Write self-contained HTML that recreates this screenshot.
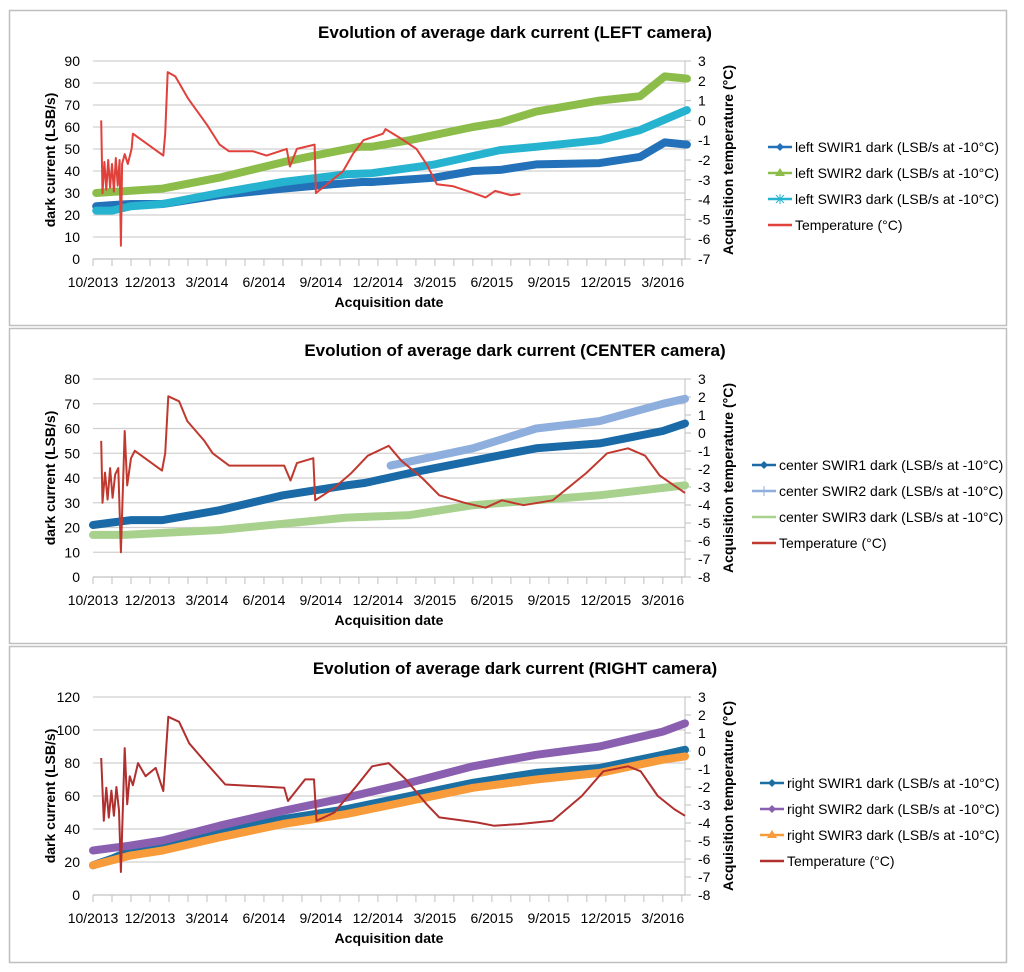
<!DOCTYPE html>
<html><head><meta charset="utf-8"><style>
body{margin:0;background:#fff;}
svg{display:block;font-family:"Liberation Sans",sans-serif;}
</style></head><body>
<svg id="chart" width="1024" height="972" viewBox="0 0 1024 972" xmlns="http://www.w3.org/2000/svg"></svg>
<script>
// shared x-axis: days since 2013-10-01
const xTickLabels = ["10/2013","12/2013","3/2014","6/2014","9/2014","12/2014","3/2015","6/2015","9/2015","12/2015","3/2016"];

// ---------- LEFT camera ----------
const leftYTicks = [0,10,20,30,40,50,60,70,80,90];
const leftTTicks = [-7,-6,-5,-4,-3,-2,-1,0,1,2,3];
const leftS1Days = [5,30,60,110,200,300,380,425,440,540,600,643,700,800,864,903,938];
const leftS1Vals = [24,24.5,25,25,29,32,34,35,35,37,40,40.5,43,43.6,46.4,53,52];
const leftS2Days = [5,30,60,110,200,300,350,420,440,500,600,643,700,800,864,903,938];
const leftS2Vals = [30,30.5,31,32,37,44,47,51,51,54,60,62,67,72,74,83,82];
const leftS3Days = [5,30,60,110,200,300,400,440,540,643,700,800,864,938];
const leftS3Vals = [22,22,24,25,30,35,38.5,39,43,49.5,51,54,58.6,67.7];
const leftTDays = [13,15,18,21,24,27,30,33,36,39,42,44,46,50,55,61,63,111,114,118,130,150,180,200,215,253,274,306,311,322,350,352,374,395,411,427,458,462,485,511,527,543,569,601,620,635,660,675];
const leftTVals = [0.0,-3.67,-2.1,-3.5,-2.0,-3.4,-2.2,-3.6,-1.9,-3.3,-2.0,-6.33,-2.2,-1.7,-2.2,-1.44,-0.67,-1.78,-0.67,2.44,2.22,1.11,-0.22,-1.22,-1.56,-1.56,-1.78,-1.44,-2.33,-1.44,-1.22,-3.67,-3.11,-2.56,-1.67,-1.0,-0.67,-0.44,-0.89,-1.44,-2.22,-3.22,-3.33,-3.67,-3.89,-3.56,-3.78,-3.7];

// ---------- CENTER camera ----------
const centerYTicks = [0,10,20,30,40,50,60,70,80];
const centerTTicks = [-8,-7,-6,-5,-4,-3,-2,-1,0,1,2,3];
const centerS1Days = [0,30,60,110,200,300,400,430,500,600,700,800,900,935];
const centerS1Vals = [21,22,23,23,27,33,37,38,42,47,52,54,59,62];
const centerS2Days = [470,600,700,800,900,935];
const centerS2Vals = [45,52,60,63,70,72];
const centerS3Days = [0,50,200,400,500,600,700,800,900,935];
const centerS3Vals = [17,17,19,24,25,29,31,33,36,37];
const centerTDays = [13,15,19,23,27,31,35,40,44,50,54,60,66,109,114,119,136,149,176,189,215,302,312,322,348,351,381,408,434,467,487,520,547,587,620,646,680,726,779,812,845,872,895,912,935];
const centerTVals = [-0.44,-3.875,-2.2,-3.7,-1.95,-3.6,-2.3,-1.95,-6.63,0.11,-2.91,-1.4,-0.99,-2.09,-1.125,2.04,1.76,0.66,-0.44,-1.125,-1.81,-1.81,-2.64,-1.675,-1.4,-3.74,-3.05,-2.225,-1.26,-0.71,-1.54,-2.5,-3.46,-3.875,-4.15,-3.74,-4.01,-3.74,-2.225,-1.125,-0.85,-1.26,-2.36,-2.775,-3.325];

// ---------- RIGHT camera ----------
const rightYTicks = [0,20,40,60,80,100,120];
const rightTTicks = [-8,-7,-6,-5,-4,-3,-2,-1,0,1,2,3];
const rightS1Days = [0,30,60,110,200,300,400,500,600,700,800,900,935];
const rightS1Vals = [18,22,27,30,38,46,52,60,68,74,77,85,88];
const rightS2Days = [0,60,110,200,300,400,500,600,700,800,900,935];
const rightS2Vals = [27,30,33,42,51,59,68,78,85,90,99,104];
const rightS3Days = [0,60,110,200,300,400,500,600,700,800,900,935];
const rightS3Vals = [18,24,27,35,43,49,57,65,70,74,82,84];
const rightTDays = [13,17,21,25,29,33,37,41,44,50,54,58,63,71,83,99,111,119,136,152,179,209,302,308,335,349,353,381,414,441,467,494,527,547,607,633,673,726,772,806,845,865,892,918,935];
const rightTVals = [-0.39,-3.875,-2.04,-3.7,-2.2,-3.6,-2.0,-3.3,-6.72,0.16,-2.96,-1.4,-1.9,-0.67,-1.4,-0.94,-2.22,1.9,1.625,0.43,-0.67,-1.86,-2.04,-2.775,-1.58,-1.58,-3.875,-3.42,-2.04,-0.85,-0.67,-1.58,-2.96,-3.69,-3.97,-4.15,-4.06,-3.875,-2.5,-1.125,-0.85,-1.125,-2.5,-3.23,-3.6];

const NS="http://www.w3.org/2000/svg";
const svg=document.getElementById('chart');
function mk(tag,attrs,parent){const e=document.createElementNS(NS,tag);for(const k in attrs)e.setAttribute(k,attrs[k]);(parent||svg).appendChild(e);return e;}
const X0=93,X1=685,DMAX=935;
function xScale(d){return X0+(d/DMAX)*(X1-X0);}

const panels=[
 {oy:0,h:315,cam:"LEFT",pre:"left",yTicks:leftYTicks,tTicks:leftTTicks,yMax:90,tMin:-7,tMax:3,
  series:[{d:leftS1Days,v:leftS1Vals,c:"#2371b8",m:"diamond"},{d:leftS2Days,v:leftS2Vals,c:"#8cbd4a",m:"triangle"},{d:leftS3Days,v:leftS3Vals,c:"#25b3cf",m:"star"}],
  temp:{d:leftTDays,v:leftTVals,c:"#e0413b"},leg:768},
 {oy:318,h:315,cam:"CENTER",pre:"center",yTicks:centerYTicks,tTicks:centerTTicks,yMax:80,tMin:-8,tMax:3,
  series:[{d:centerS1Days,v:centerS1Vals,c:"#1a6aa8",m:"diamond"},{d:centerS2Days,v:centerS2Vals,c:"#8eaedd",m:"plus"},{d:centerS3Days,v:centerS3Vals,c:"#a9d18e",m:"dash"}],
  temp:{d:centerTDays,v:centerTVals,c:"#c0392f"},leg:752},
 {oy:636,h:316,cam:"RIGHT",pre:"right",yTicks:rightYTicks,tTicks:rightTTicks,yMax:120,tMin:-8,tMax:3,
  series:[{d:rightS1Days,v:rightS1Vals,c:"#1b6fa3",m:"diamond"},{d:rightS2Days,v:rightS2Vals,c:"#8a5fb0",m:"diamond"},{d:rightS3Days,v:rightS3Vals,c:"#f89b3b",m:"triangle"}],
  temp:{d:rightTDays,v:rightTVals,c:"#b02f2f"},leg:760}
];

panels.forEach((p,pi)=>{
  const g=mk('g',{});
  
  
  const oy=p.oy, top=61+oy, bot=259+oy;
  const yS=v=>bot-(v/p.yMax)*(bot-top);
  const tS=t=>bot-((t-p.tMin)/(p.tMax-p.tMin))*(bot-top);
  const border=mk('rect',{x:9.5,y:10.5+oy,width:997,height:p.h,fill:'#fff',stroke:'#bfbfbf','stroke-width':1.5},g);
  
  
  const title=mk('text',{x:515,y:38+oy,'text-anchor':'middle','font-size':17,'font-weight':'bold',fill:'#000'},g);
  title.textContent='Evolution of average dark current ('+p.cam+' camera)';
  
  
  // gridlines + left ticks
  p.yTicks.forEach(v=>{
    const gl=mk('line',{x1:X0,x2:X1,y1:yS(v),y2:yS(v),stroke:'#d0d0d0','stroke-width':1.2},g);
    
    
    const t=mk('text',{x:80,y:yS(v)+5,'text-anchor':'end','font-size':14,fill:'#000'},g);
    t.textContent=v;
    
    
  });
  // right axis
  const ra=mk('line',{x1:X1,x2:X1,y1:top,y2:bot,stroke:'#bfbfbf','stroke-width':1},g);
  
  
  p.tTicks.forEach(t=>{
    const tk=mk('line',{x1:X1,x2:X1+6,y1:tS(t),y2:tS(t),stroke:'#bfbfbf'},g);
    
    
    const tl=mk('text',{x:698,y:tS(t)+5,'font-size':14,fill:'#000'},g);
    tl.textContent=t;
    
    
  });
  // bottom axis
  const ba=mk('line',{x1:X0,x2:X1,y1:bot,y2:bot,stroke:'#bfbfbf'},g);
  
  
  for(let d=0;d<=DMAX;d+=30){
    const tk=mk('line',{x1:xScale(d),x2:xScale(d),y1:bot,y2:bot+7,stroke:'#bfbfbf'},g);
    
    
  }
  xTickLabels.forEach((lab,i)=>{
    const t=mk('text',{x:xScale(i*90),y:bot+28,'text-anchor':'middle','font-size':14,fill:'#000'},g);
    t.textContent=lab;
    
    
  });
  const xt=mk('text',{x:389,y:bot+48,'text-anchor':'middle','font-size':14,'font-weight':'bold',fill:'#000'},g);
  xt.textContent='Acquisition date';
  
  
  const yt=mk('text',{x:0,y:0,'text-anchor':'middle','font-size':14,'font-weight':'bold',fill:'#000',transform:'translate(55,'+(160+oy)+') rotate(-90)'},g);
  yt.textContent='dark current (LSB/s)';
  
  
  const rt=mk('text',{x:0,y:0,'text-anchor':'middle','font-size':14,'font-weight':'bold',fill:'#000',transform:'translate(733,'+(160+oy)+') rotate(-90)'},g);
  rt.textContent='Acquisition temperature (°C)';
  
  
  // series bands
  p.series.forEach((s,si)=>{
    const pts=s.d.map((d,i)=>xScale(d).toFixed(1)+','+yS(s.v[i]).toFixed(1)).join(' ');
    const pl=mk('polyline',{points:pts,fill:'none',stroke:s.c,'stroke-width':8,'stroke-linejoin':'round','stroke-linecap':'round'},g);
    
    
  });
  const tp=p.temp.d.map((d,i)=>xScale(d).toFixed(1)+','+tS(p.temp.v[i]).toFixed(1)).join(' ');
  const tl=mk('polyline',{points:tp,fill:'none',stroke:p.temp.c,'stroke-width':2,'stroke-linejoin':'round'},g);
  
  
  // legend
  const names=[p.pre+' SWIR1 dark (LSB/s at -10°C)',p.pre+' SWIR2 dark (LSB/s at -10°C)',p.pre+' SWIR3 dark (LSB/s at -10°C)','Temperature (°C)'];
  const cols=[p.series[0].c,p.series[1].c,p.series[2].c,p.temp.c];
  const lx=p.leg;
  names.forEach((n,i)=>{
    const ly=147+oy+i*26;
    const le=mk('g',{},g);
    
    
    mk('line',{x1:lx,x2:lx+24,y1:ly,y2:ly,stroke:cols[i],'stroke-width':2.5},le);
    if(i<3){
      const m=p.series[i].m, cx=lx+12;
      if(m==='diamond')mk('polygon',{points:`${cx},${ly-4} ${cx+4},${ly} ${cx},${ly+4} ${cx-4},${ly}`,fill:cols[i]},le);
      else if(m==='triangle')mk('polygon',{points:`${cx},${ly-5} ${cx+5},${ly+3} ${cx-5},${ly+3}`,fill:cols[i]},le);
      else if(m==='star'||m==='plus'){mk('line',{x1:cx,x2:cx,y1:ly-5,y2:ly+5,stroke:cols[i]},le);if(m==='star'){mk('line',{x1:cx-4,x2:cx+4,y1:ly-4,y2:ly+4,stroke:cols[i]},le);mk('line',{x1:cx-4,x2:cx+4,y1:ly+4,y2:ly-4,stroke:cols[i]},le);}}
    }
    const t=mk('text',{x:lx+27,y:ly+5,'font-size':14,fill:'#000'},le);
    t.textContent=n;
  });
});
</script>
</body></html>
